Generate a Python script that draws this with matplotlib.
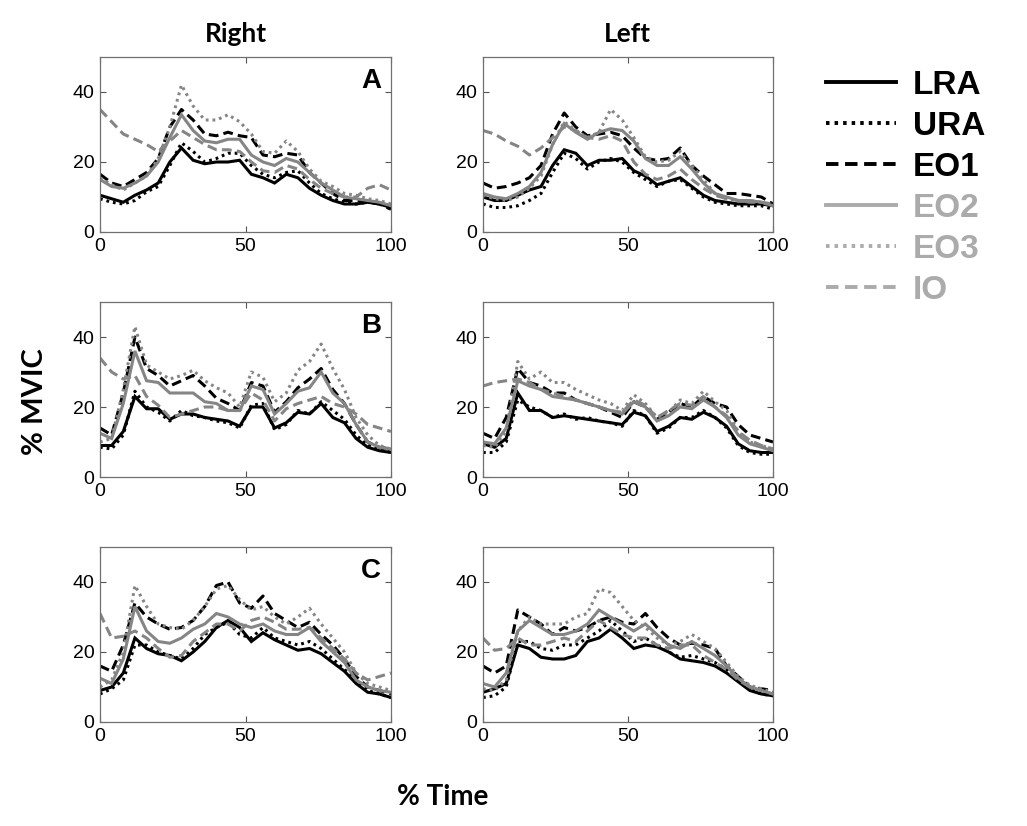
import matplotlib
matplotlib.use("Agg")
import matplotlib.pyplot as plt
from matplotlib.lines import Line2D

x = [0, 4, 8, 12, 16, 20, 24, 28, 32, 36, 40, 44, 48, 52, 56, 60, 64, 68, 72, 76, 80, 84, 88, 92, 96, 100]
series_names = ["LRA", "URA", "EO1", "EO2", "EO3", "IO"]

# Panel A - Right
A_right_LRA = [10.5, 9.5, 8.5, 10.5, 12, 14, 20, 24, 20.5, 19.5, 20, 20, 20.5, 16.5, 15.5, 14, 16.5, 15.5, 12.5, 10.5, 9, 8, 8, 8.5, 8, 7]
A_right_URA = [9.5, 8.5, 8, 9, 11.5, 13, 19, 25.5, 23, 20, 21, 22.5, 22.5, 19, 16.5, 15.5, 17, 17.5, 14, 11, 9.5, 8.5, 8, 8.5, 8.5, 6.5]
A_right_EO1 = [16.5, 14, 13, 15, 17, 21, 30, 35, 32, 28, 27.5, 28.5, 27.5, 27, 22, 21.5, 22.5, 22, 17, 14, 11, 9, 9, 8.5, 8, 6.5]
A_right_EO2 = [15, 13, 12.5, 14, 16, 20, 27, 33.5, 29, 26, 25.5, 26.5, 26.5, 22, 20, 19, 21, 20, 17, 14, 12, 10, 9.5, 9, 8.5, 7.5]
A_right_EO3 = [15.5, 13.5, 12, 14, 16, 21, 30, 42, 36, 32, 32, 33.5, 31.5, 28, 23, 22.5, 26, 23, 18, 14.5, 13, 11, 10.5, 9.5, 9, 8]
A_right_IO = [35, 31.5, 28, 26.5, 25, 23, 26, 29, 27, 25, 23.5, 23.5, 23, 20, 17.5, 17, 19, 18, 15, 12.5, 11, 10, 10, 12.5, 13.5, 12]

# Panel A - Left
A_left_LRA = [10, 9, 9, 10.5, 12, 13, 19, 23.5, 22.5, 19, 20.5, 20.5, 21, 17.5, 16, 13.5, 14.5, 15.5, 13, 10.5, 9, 8.5, 8, 8, 8, 7.5]
A_left_URA = [8, 7, 7, 7.5, 9, 11, 17, 22.5, 21, 18, 20, 21, 20, 17, 15, 13, 14.5, 15, 12.5, 10, 8.5, 8, 7.5, 7.5, 7.5, 6.5]
A_left_EO1 = [14, 12.5, 13, 14, 15.5, 19, 28, 34, 30, 27.5, 28, 28.5, 27.5, 24, 21, 20.5, 21, 24, 19, 16, 13.5, 11, 11, 10.5, 10, 8]
A_left_EO2 = [11, 10, 9.5, 11, 13, 17, 25, 31, 28.5, 26.5, 28.5, 29.5, 29, 26, 21, 19, 19, 21.5, 18, 14, 11, 10, 9, 9, 8.5, 7.5]
A_left_EO3 = [10.5, 9.5, 9, 10, 12.5, 16, 25, 31.5, 29, 27, 28.5, 35, 32, 27, 21.5, 20, 20.5, 23, 19, 15, 11, 9.5, 9, 9, 8.5, 7.5]
A_left_IO = [29, 28, 26, 24.5, 22, 24, 27, 30, 29, 27, 26.5, 27.5, 26, 20, 16.5, 15, 16, 18, 15, 12.5, 10.5, 9.5, 9, 8.5, 8.5, 8]

# Panel B - Right
B_right_LRA = [9, 9, 13, 23, 19.5, 19.5, 16.5, 18, 18, 17, 16.5, 16, 14.5, 20, 20, 14, 15.5, 18.5, 18, 21, 17, 15.5, 11, 8.5, 7.5, 7]
B_right_URA = [8.5, 8, 12, 24.5, 20, 18.5, 16, 19, 17.5, 17, 16, 15.5, 14, 20.5, 21, 13.5, 15, 19, 18, 21.5, 19, 16.5, 12, 9, 8, 7]
B_right_EO1 = [14, 12, 24, 40, 31, 29, 26, 27.5, 29, 26, 22.5, 21, 19, 27, 26, 18.5, 21.5, 25.5, 28, 31, 25, 21, 15, 10, 8.5, 8]
B_right_EO2 = [12.5, 11, 21, 36, 27.5, 27, 24, 24, 24, 21.5, 21, 19, 19, 26, 25, 18, 21, 24.5, 25.5, 30, 24, 21, 15, 10, 8.5, 8]
B_right_EO3 = [10, 11, 25, 43, 32, 30, 28, 29, 30.5, 27.5, 25.5, 24, 20, 30, 28.5, 21.5, 24, 30.5, 33, 38, 31, 25, 17, 12, 9, 8]
B_right_IO = [34, 30, 28, 29, 23, 20.5, 17, 18, 19, 20, 20, 19, 19, 24, 22, 16, 19.5, 21, 22, 23, 21, 20, 18, 15, 14, 13]

# Panel B - Left
B_left_LRA = [9.5, 8.5, 11, 24, 19, 19, 17, 17.5, 17, 16.5, 16, 15.5, 15, 18.5, 17.5, 13, 14.5, 17, 16.5, 18.5, 17, 14.5, 9.5, 7.5, 7, 7]
B_left_URA = [7, 7, 10, 22, 20, 19, 17, 18, 16.5, 17, 16, 15.5, 14.5, 19, 17.5, 12.5, 14, 17, 17, 19, 17, 14, 9, 7, 6.5, 6.5]
B_left_EO1 = [12.5, 11, 17, 31, 27, 26, 24, 24, 22, 21, 20, 18.5, 17, 21.5, 20, 16.5, 18.5, 21, 20, 23, 21, 20, 15, 12, 11, 10]
B_left_EO2 = [10, 9.5, 14, 27.5, 26, 25, 23, 22.5, 22, 21, 20, 19, 18, 21.5, 20, 16, 17.5, 20, 19.5, 22, 20, 17, 12, 9.5, 8.5, 7.5]
B_left_EO3 = [9, 8.5, 13, 33, 28, 30, 27, 27, 25, 23.5, 22, 21, 19, 23.5, 21, 17, 18.5, 22, 21, 24.5, 21.5, 19, 13, 10, 9, 8]
B_left_IO = [26, 27, 27.5, 28, 27, 25, 24, 23, 22, 21, 20, 19, 18.5, 22, 20.5, 17, 19, 21, 20.5, 23, 20, 17.5, 13, 10.5, 9, 8]

# Panel C - Right
C_right_LRA = [9, 10, 14, 24, 21, 19.5, 19, 17.5, 20, 23, 27, 29, 27, 23, 25.5, 23.5, 22, 20.5, 21, 19.5, 17, 14.5, 11, 8.5, 8, 7]
C_right_URA = [8, 9.5, 12, 22, 22, 20, 19, 18, 21, 25, 27, 28.5, 25, 24, 27, 24, 23, 22, 23, 21, 18, 15, 12, 9, 8, 7]
C_right_EO1 = [16, 14.5, 22, 34, 30, 28, 26.5, 27, 29, 33, 39, 40, 34, 32.5, 36, 31, 29, 27, 28.5, 25, 22, 18, 13, 10, 9, 8]
C_right_EO2 = [12.5, 11, 18, 33, 26, 23, 22.5, 24, 26.5, 28, 31, 30, 28, 27, 28, 26, 25, 25, 27, 23, 20, 17, 12, 10, 9, 8.5]
C_right_EO3 = [10, 12, 20, 39, 33, 28, 27, 26.5, 29, 33, 38, 39, 35, 32, 33, 30, 28, 30, 32.5, 28, 24, 20, 14, 11, 10, 9]
C_right_IO = [31, 24, 24.5, 26, 24, 21, 18.5, 19, 23, 25.5, 28, 28, 26, 29, 30, 28.5, 26.5, 26.5, 27, 24, 21, 18, 14, 12, 13, 14]

# Panel C - Left
C_left_LRA = [8.5, 9.5, 11, 22, 21, 18.5, 18, 18, 19, 23, 24, 26.5, 24, 21, 22, 21.5, 20, 18, 17.5, 17, 16, 14, 11.5, 9, 8, 7.5]
C_left_URA = [7, 7.5, 10, 23, 23, 21, 20.5, 22, 22, 24, 26, 29, 26, 23, 24, 22, 20, 18.5, 19, 18, 17, 15, 12, 9.5, 8, 7.5]
C_left_EO1 = [16, 14, 16, 32, 30, 28, 25, 27, 26, 27, 29, 30, 28.5, 28, 31, 27, 24, 22, 22.5, 22, 21, 16, 13, 10, 9.5, 9]
C_left_EO2 = [11, 10, 14, 26, 29, 27, 25, 25, 26, 28, 32, 30, 28, 26, 28, 25, 22, 21, 23, 21, 19, 16, 12.5, 10, 9, 8]
C_left_EO3 = [9.5, 9, 12, 26, 30, 28, 28, 28, 30, 31, 38, 37, 33, 29, 27, 24, 22, 23, 25, 23, 21, 17, 13, 10.5, 9.5, 8.5]
C_left_IO = [24, 20.5, 21, 24, 22, 22, 23, 24, 23, 26, 29, 27, 25, 24, 24, 22, 21, 22, 22, 19, 17, 15, 12, 10, 9, 8]

panels = [
    [[A_right_LRA, A_right_URA, A_right_EO1, A_right_EO2, A_right_EO3, A_right_IO],
     [A_left_LRA, A_left_URA, A_left_EO1, A_left_EO2, A_left_EO3, A_left_IO]],
    [[B_right_LRA, B_right_URA, B_right_EO1, B_right_EO2, B_right_EO3, B_right_IO],
     [B_left_LRA, B_left_URA, B_left_EO1, B_left_EO2, B_left_EO3, B_left_IO]],
    [[C_right_LRA, C_right_URA, C_right_EO1, C_right_EO2, C_right_EO3, C_right_IO],
     [C_left_LRA, C_left_URA, C_left_EO1, C_left_EO2, C_left_EO3, C_left_IO]],
]
panel_letters = ["A", "B", "C"]
col_titles = ["Right", "Left"]
xticks = [0, 50, 100]
yticks = [0, 20, 40]

GRAY = "#858585"
LGRAY = "#ababab"
DOT = (0, (0.9, 1.3))
DASH = (0, (3.2, 1.7))
styles = [
    dict(color="black", ls="-"),
    dict(color="black", ls=DOT),
    dict(color="black", ls=DASH),
    dict(color=GRAY, ls="-"),
    dict(color=GRAY, ls=DOT),
    dict(color=GRAY, ls=DASH),
]

W, H = 1027, 826
fig = plt.figure(figsize=(W / 100, H / 100), dpi=100)
fig.patch.set_facecolor("white")

col_left = [100, 483]
col_width = [291, 290]
row_bottom = [232, 477, 722]
row_height = 175
title_x = [236, 627]

for r in range(3):
    for c in range(2):
        ax = fig.add_axes([col_left[c] / W, 1 - row_bottom[r] / H, col_width[c] / W, row_height / H])
        for k, ys in enumerate(panels[r][c]):
            st = styles[k]
            ax.plot(x, ys, color=st["color"], linestyle=st["ls"], lw=2.2, solid_joinstyle="miter")
        ax.set_xlim(0, 100)
        ax.set_ylim(0, 50)
        ax.set_xticks(xticks)
        ax.set_yticks(yticks)
        ax.tick_params(direction="in", length=4, width=0.8, color="#555555",
                       top=True, right=True, pad=4)
        for lab in ax.get_xticklabels() + ax.get_yticklabels():
            lab.set_fontfamily("Liberation Sans")
            lab.set_fontsize(14)
        for sp in ax.spines.values():
            sp.set_color("#707070")
            sp.set_linewidth(0.9)
        if c == 0:
            ax.text(0.965, 0.935, panel_letters[r], transform=ax.transAxes, ha="right", va="top",
                    fontfamily="Liberation Sans", fontweight="bold", fontsize=20)
        if r == 0:
            fig.text(title_x[c] / W, 1 - 34 / H, col_titles[c], ha="center", va="center",
                     fontfamily="Lato", fontweight="bold", fontsize=19)

fig.text(35 / W, 1 - 402 / H, "% MVIC", rotation=90, ha="center", va="center",
         fontfamily="Lato", fontweight="bold", fontsize=21)
fig.text(443 / W, 1 - 797 / H, "% Time", ha="center", va="center",
         fontfamily="Lato", fontweight="bold", fontsize=20)

leg_colors = ["black", "black", "black", LGRAY, LGRAY, LGRAY]
handles = []
for k, name in enumerate(series_names):
    st = styles[k]
    handles.append(Line2D([0], [0], color=leg_colors[k], linestyle=st["ls"], lw=2.8))
leg = fig.legend(handles, series_names, loc="upper left", bbox_to_anchor=(826 / W, 1 - 70 / H),
                 frameon=False, prop=dict(family="Liberation Sans", weight="bold", size=24),
                 handlelength=2.1, handletextpad=0.5, labelspacing=0.3, borderpad=0, borderaxespad=0)
for t, col in zip(leg.get_texts(), leg_colors):
    t.set_color(col)

fig.savefig("out.png", dpi=100, facecolor="white")
